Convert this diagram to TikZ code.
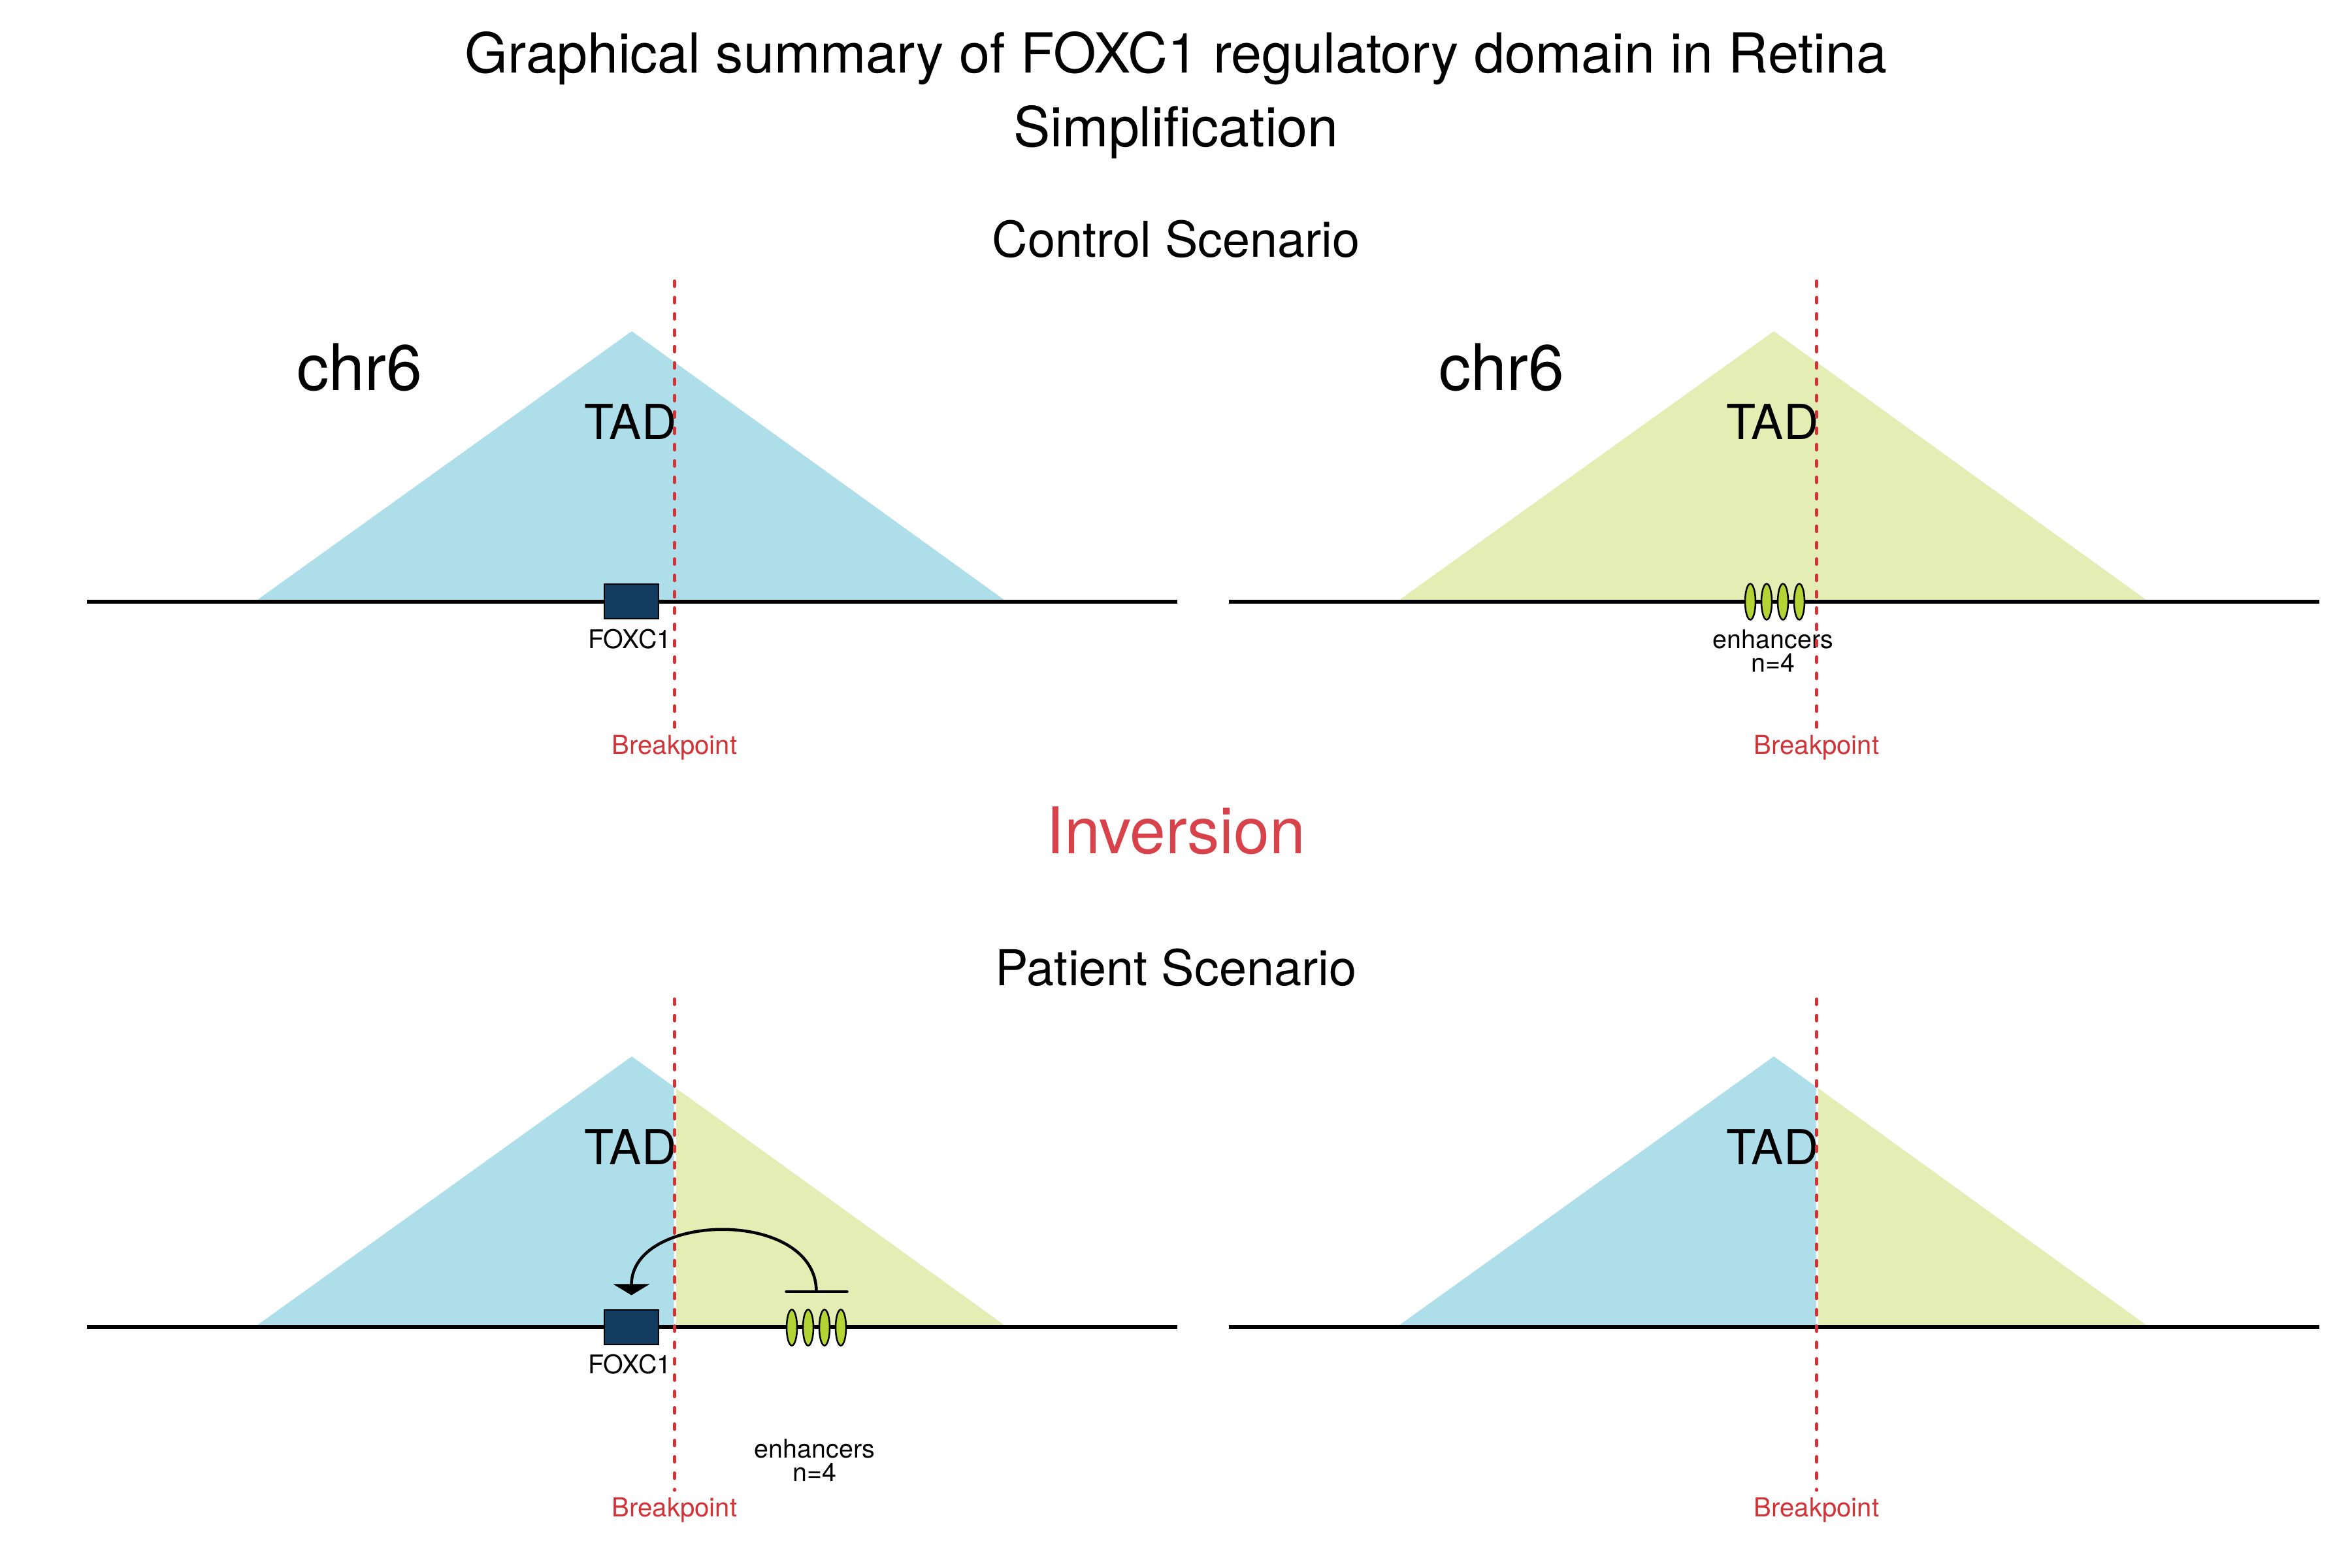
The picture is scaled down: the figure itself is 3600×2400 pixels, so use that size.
\documentclass[tikz,border=0pt]{standalone}
\usepackage{fontspec}
\setmainfont{TeX Gyre Heros}
\usetikzlibrary{shapes.geometric,arrows.meta}
\definecolor{tadblue}{HTML}{ADDEEA}
\definecolor{tadgreen}{HTML}{E4EDB4}
\definecolor{enhcol}{HTML}{B4D335}
\definecolor{genecol}{HTML}{123C5F}
\definecolor{bpred}{HTML}{D13438}
\definecolor{invred}{HTML}{D8434B}
\tikzset{
  titletext/.style={font=\fontsize{24}{28}\selectfont, anchor=base, inner sep=0},
  subtext/.style={font=\fontsize{21.5}{25}\selectfont, anchor=base, inner sep=0},
  invtext/.style={font=\fontsize{28}{32}\selectfont, text=invred, anchor=base, inner sep=0},
  chrtext/.style={font=\fontsize{28}{32}\selectfont, anchor=base west, inner sep=0},
  tadtext/.style={font=\fontsize{21}{25}\selectfont, anchor=base, inner sep=0},
  smalltext/.style={font=\fontsize{11.2}{13}\selectfont, anchor=base, inner sep=0},
  bplabel/.style={font=\fontsize{11.4}{13}\selectfont, text=bpred, anchor=base, inner sep=0},
  chrom/.style={line width=0.06cm, black},
  bpline/.style={draw=bpred, line width=0.045cm, line cap=round, dash pattern=on 0.085cm off 0.165cm},
  genebox/.style={rectangle, draw=black, fill=genecol, line width=0.02cm, minimum width=0.83cm, minimum height=0.53cm, inner sep=0},
  enhnode/.style={ellipse, draw=black, fill=enhcol, line width=0.025cm, minimum width=0.16cm, minimum height=0.55cm, inner sep=0},
  tbar/.style={line width=0.035cm, line cap=round, black},
  loopline/.style={line width=0.045cm, black, -{Triangle[width=0.55cm,length=0.17cm]}}
}
\begin{document}
\begin{tikzpicture}[x=0.01cm,y=-0.01cm]
\useasboundingbox (0,0) rectangle (3600,2400);
\fill[white] (0,0) rectangle (3600,2400);

% titles
\node[titletext] (title1) at (1800,112) {Graphical summary of FOXC1 regulatory domain in Retina};
\node[titletext] (title2) at (1800,225) {Simplification};
\node[subtext] (ctrl) at (1800,393) {Control Scenario};
\node[invtext] (inv) at (1800,1306) {Inversion};
\node[subtext] (pat) at (1800,1508) {Patient Scenario};

% ---------- top left ----------
\fill[tadblue] (390,921) -- (967,507) -- (1541,921) -- cycle;
\coordinate (tlL) at (133,921);
\coordinate (tlR) at (1802,921);
\draw[chrom] (tlL) -- (tlR);
\node[chrtext] (tlchr) at (454,597) {chr6};
\node[tadtext] (tltad) at (965,672) {TAD};
\node[genebox] (tlgene) at (966.5,920.5) {};
\node[smalltext] (tlgenelab) at (964,992) {FOXC1};
\coordinate (tlbpA) at (1032.5,430);
\coordinate (tlbpB) at (1032.5,1113);
\draw[bpline] (tlbpA) -- (tlbpB);
\node[bplabel] (tlbplab) at (1032.5,1154) {Breakpoint};

% ---------- top right ----------
\begin{scope}[shift={(1748,0)}]
\fill[tadgreen] (390,921) -- (967,507) -- (1541,921) -- cycle;
\coordinate (trL) at (133,921);
\coordinate (trR) at (1802,921);
\draw[chrom] (trL) -- (trR);
\node[chrtext] (trchr) at (454,597) {chr6};
\node[tadtext] (trtad) at (965,672) {TAD};
\node[enhnode] (tre1) at (931,921) {};
\node[enhnode] (tre2) at (956,921) {};
\node[enhnode] (tre3) at (981,921) {};
\node[enhnode] (tre4) at (1006,921) {};
\node[smalltext] (trenhlab) at (966,992) {enhancers};
\node[smalltext] (trenhn) at (966,1028) {n=4};
\coordinate (trbpA) at (1032.5,430);
\coordinate (trbpB) at (1032.5,1113);
\draw[bpline] (trbpA) -- (trbpB);
\node[bplabel] (trbplab) at (1032.5,1154) {Breakpoint};
\end{scope}

% ---------- bottom left ----------
\begin{scope}[shift={(0,1110)}]
\fill[tadblue] (390,921) -- (967,507) -- (1031.5,553.3) -- (1031.5,921) -- cycle;
\fill[tadgreen] (1035,555.8) -- (1541,921) -- (1035,921) -- cycle;
\coordinate (blL) at (133,921);
\coordinate (blR) at (1802,921);
\draw[chrom] (blL) -- (blR);
\node[tadtext] (bltad) at (965,672) {TAD};
\node[genebox] (blgene) at (966.5,921) {};
\node[smalltext] (blgenelab) at (964,992) {FOXC1};
\node[enhnode] (ble1) at (1212,922) {};
\node[enhnode] (ble2) at (1237,922) {};
\node[enhnode] (ble3) at (1262,922) {};
\node[enhnode] (ble4) at (1287,922) {};
\coordinate (bltbarL) at (1203,867);
\coordinate (bltbarR) at (1297,867);
\coordinate (bltbar) at (1249.5,867);
\draw[tbar] (bltbarL) -- (bltbarR);
\coordinate (bltip) at ([yshift=0.21cm]blgene.north);
\draw[loopline] (bltbar) .. controls +(0,-128) and +(0,-128) .. (bltip);
\node[smalltext] (blenhlab) at (1247,1121) {enhancers};
\node[smalltext] (blenhn) at (1247,1157) {n=4};
\coordinate (blbpA) at (1032.5,419);
\coordinate (blbpB) at (1032.5,1171);
\draw[bpline] (blbpA) -- (blbpB);
\node[bplabel] (blbplab) at (1032.5,1211) {Breakpoint};
\end{scope}

% ---------- bottom right ----------
\begin{scope}[shift={(1748,1110)}]
\fill[tadblue] (390,921) -- (967,507) -- (1031.5,553.3) -- (1031.5,921) -- cycle;
\fill[tadgreen] (1035,555.8) -- (1541,921) -- (1035,921) -- cycle;
\coordinate (brL) at (133,921);
\coordinate (brR) at (1802,921);
\draw[chrom] (brL) -- (brR);
\node[tadtext] (brtad) at (965,672) {TAD};
\coordinate (brbpA) at (1032.5,419);
\coordinate (brbpB) at (1032.5,1171);
\draw[bpline] (brbpA) -- (brbpB);
\node[bplabel] (brbplab) at (1032.5,1211) {Breakpoint};
\end{scope}
\end{tikzpicture}
\end{document}
